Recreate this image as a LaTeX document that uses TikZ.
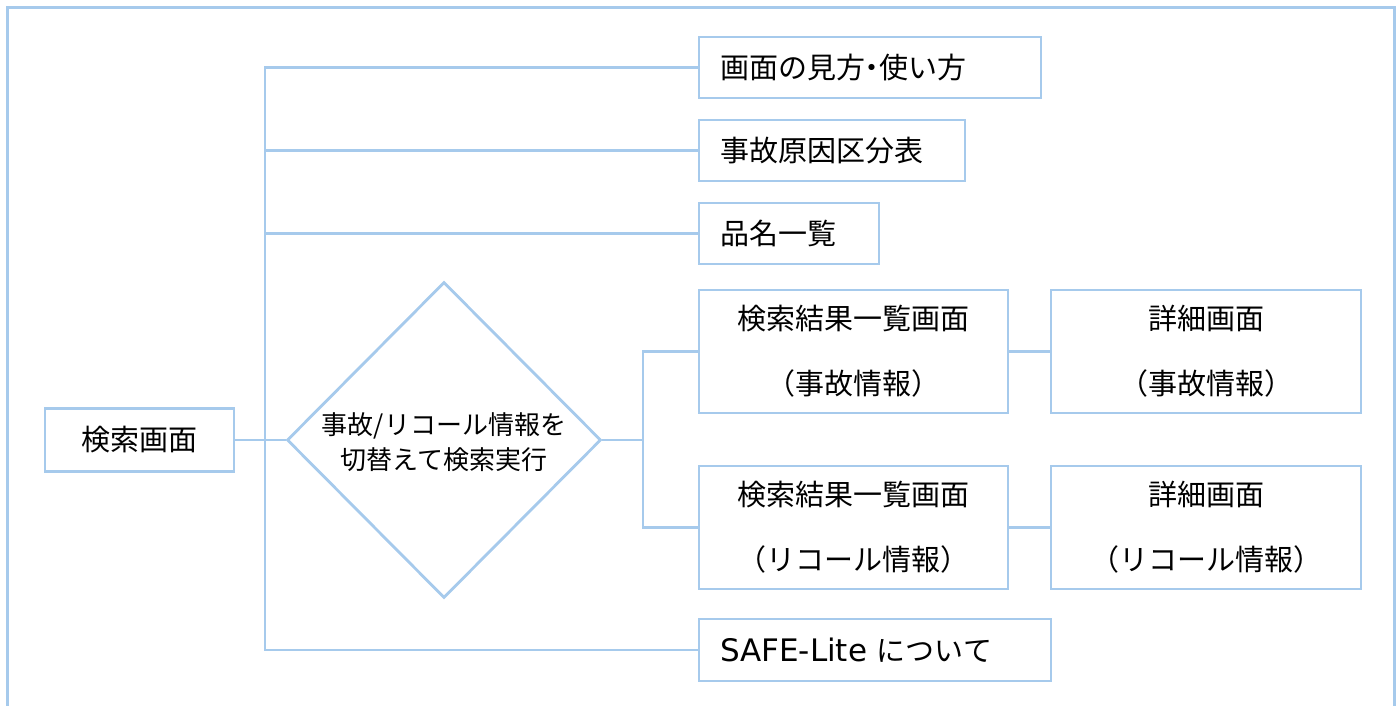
\documentclass[tikz,border=0pt]{standalone}
\usepackage{fontspec}
\setmainfont{Noto Sans CJK JP}
\newfontfamily\latinwide{DejaVu Sans}
\usetikzlibrary{shapes.geometric,calc}
\definecolor{lineblue}{RGB}{166,202,236}
\begin{document}
\begin{tikzpicture}[x=1pt,y=-1pt,
  conn/.style={draw=lineblue,line width=2.8pt},
  boxleft/.style={draw=lineblue,line width=2.8pt,fill=white,rectangle,inner xsep=21pt,inner ysep=0pt,
    align=left,font=\fontsize{29}{34}\selectfont,anchor=center},
  boxtwo/.style={draw=lineblue,line width=2.8pt,fill=white,rectangle,inner sep=0pt,
    align=center,font=\fontsize{29}{65}\selectfont,anchor=center,minimum height=123pt},
  decision/.style={draw=lineblue,line width=2.8pt,fill=white,diamond,inner sep=0pt,
    minimum width=314pt,minimum height=316pt,anchor=center}
]
\useasboundingbox (0,0) rectangle (1400,705);
% outer frame
\coordinate (fbl) at (7,706);
\coordinate (ftl) at (7,7);
\coordinate (ftr) at (1394,7);
\coordinate (fbr) at (1394,706);
\draw[conn,line width=3pt] (fbl) -- (ftl) -- (ftr) -- (fbr);

% nodes
\node[boxleft,text width=300pt,minimum height=61pt] (view) at (870,67.5) {画面の見方\kern-0.25em・\kern-0.25em使い方};
\node[boxleft,text width=224pt,minimum height=61pt] (cause) at (832,150.5) {事故原因区分表};
\node[boxleft,text width=138pt,minimum height=61pt] (hinmei) at (789,233.5) {品名一覧};
\node[boxleft,text width=310pt,minimum height=62pt] (safe) at (875,650) {{\latinwide\fontsize{31}{34}\selectfont SAFE-Lite} について};
\node[boxtwo,minimum width=189pt,minimum height=63pt] (search) at (139.5,440) {検索画面};
\node[boxtwo,minimum width=309pt] (res1) at (853.5,351.5) {検索結果一覧画面\\（事故情報）};
\node[boxtwo,minimum width=310pt] (det1) at (1206,351.5) {詳細画面\\（事故情報）};
\node[boxtwo,minimum width=309pt] (res2) at (853.5,527.5) {検索結果一覧画面\\（リコール情報）};
\node[boxtwo,minimum width=310pt] (det2) at (1206,527.5) {詳細画面\\（リコール情報）};
\node[decision] (dec) at (444,440) {};
\node[align=center,inner sep=0pt,font=\fontsize{26}{35}\selectfont] (dectext) at (444,442) {事故/リコール情報を\\切替えて検索実行};

% trunk coordinates
\coordinate (tx) at (265,0);
\coordinate (bx) at (643,0);

% connectors
\draw[conn] (view.west) -- (view.west -| tx) -- (safe.west -| tx) -- (safe.west);
\draw[conn] (cause.west) -- (cause.west -| tx);
\draw[conn] (hinmei.west) -- (hinmei.west -| tx);
\draw[conn] (search.east) -- (dec.west);
\draw[conn] (dec.east) -- (dec.east -| bx);
\draw[conn] (res1.west) -- (res1.west -| bx) -- (res2.west -| bx) -- (res2.west);
\draw[conn] (res1.east) -- (det1.west);
\draw[conn] (res2.east) -- (det2.west);
\end{tikzpicture}
\end{document}
